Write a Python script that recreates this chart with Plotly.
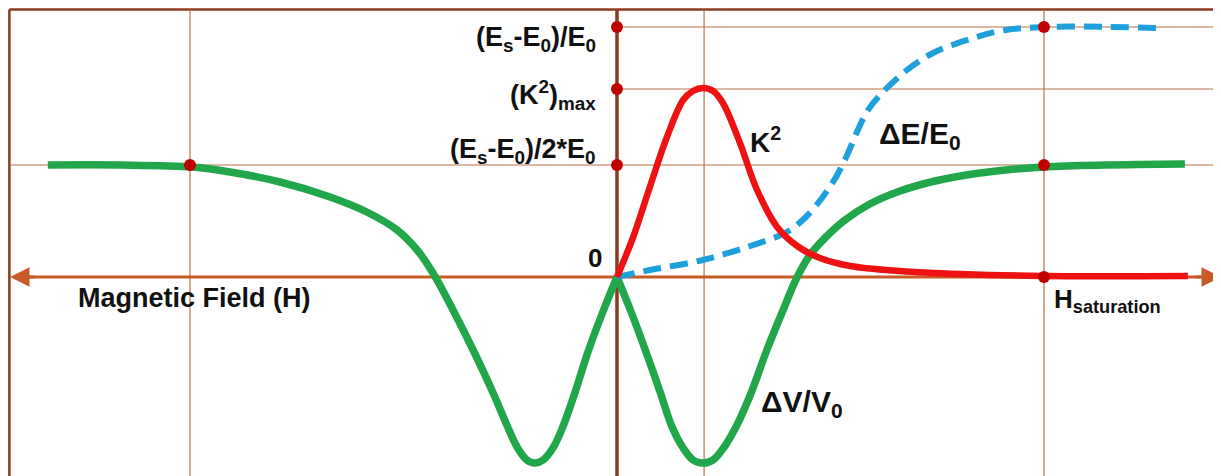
import plotly.graph_objects as go

# magnetic field, normalised so that H_saturation = 1
green_left_h = [-1.333, -1.164, -0.995, -0.906, -0.789, -0.672, -0.586, -0.515, -0.468,
                -0.431, -0.384, -0.337, -0.290, -0.258, -0.234, -0.211, -0.192, -0.173,
                -0.150, -0.127, -0.098, -0.068, -0.035, 0.0]
green_left_v = [1.12, 1.12, 1.10, 1.05, 0.95, 0.80, 0.65, 0.47, 0.27,
                0.04, -0.33, -0.73, -1.16, -1.48, -1.70, -1.83, -1.86, -1.83,
                -1.71, -1.50, -1.15, -0.75, -0.37, 0.0]
green_right_h = [0.0, 0.035, 0.068, 0.101, 0.129, 0.155, 0.178, 0.201, 0.225, 0.251,
                 0.281, 0.314, 0.351, 0.389, 0.422, 0.452, 0.487, 0.534, 0.592,
                 0.663, 0.745, 0.850, 0.998, 1.330]
green_right_v = [0.0, -0.37, -0.75, -1.15, -1.50, -1.71, -1.83, -1.86, -1.83, -1.70,
                 -1.48, -1.16, -0.73, -0.33, 0.0, 0.22, 0.39, 0.57, 0.73,
                 0.86, 0.96, 1.04, 1.10, 1.13]

k2_h = [0.0, 0.038, 0.077, 0.117, 0.155, 0.178, 0.201, 0.225, 0.248, 0.288, 0.328,
        0.375, 0.422, 0.475, 0.546, 0.663, 0.803, 0.998, 1.337]
k2_v = [0.0, 0.40, 0.90, 1.40, 1.77, 1.86, 1.89, 1.86, 1.74, 1.34, 0.87,
        0.50, 0.31, 0.19, 0.11, 0.06, 0.03, 0.01, 0.01]

de_h = [0.0, 0.077, 0.201, 0.312, 0.398, 0.440, 0.480, 0.513, 0.539, 0.562, 0.588,
        0.623, 0.679, 0.740, 0.820, 0.897, 0.998, 1.267]
de_v = [0.0, 0.07, 0.17, 0.31, 0.45, 0.59, 0.79, 1.00, 1.22, 1.45, 1.67,
        1.85, 2.07, 2.24, 2.37, 2.46, 2.50, 2.49]

# reference levels on the vertical axis
levels = [2.50, 1.88, 1.12]
level_labels = ["(E<sub>s</sub>-E<sub>0</sub>)/E<sub>0</sub>",
                "(K<sup>2</sup>)<sub>max</sub>",
                "(E<sub>s</sub>-E<sub>0</sub>)/2*E<sub>0</sub>"]
grid_h = [-1.0, 0.204, 1.0]

dot_h = [0, 0, 0, -1, 1, 1, 1]
dot_v = [2.50, 1.88, 1.12, 1.12, 2.50, 1.12, 0.0]

# the page adds an 8px body margin, ranges account for it
x0, x1 = -1.4262, 1.4333
y0, y1 = -2.07, 2.69
left, top = -1.423, 2.675

BROWN = "#8B3A1E"
GRID = "#B8704A"
AXIS = "#C85A28"


def font(size):
    return dict(family="Liberation Sans, Arial", size=size, color="#111111", weight="bold")


fig = go.Figure()

spl = dict(shape="spline", smoothing=1.0)
fig.add_trace(go.Scatter(x=green_left_h, y=green_left_v, mode="lines",
                         line=dict(color="#21A64A", width=7.5, **spl)))
fig.add_trace(go.Scatter(x=green_right_h, y=green_right_v, mode="lines",
                         line=dict(color="#21A64A", width=7.5, **spl)))
fig.add_trace(go.Scatter(x=de_h, y=de_v, mode="lines",
                         line=dict(color="#1EA0DD", width=6, dash="18px,9px", **spl)))
fig.add_trace(go.Scatter(x=k2_h, y=k2_v, mode="lines",
                         line=dict(color="#EE1111", width=6.5, **spl)))
fig.add_trace(go.Scatter(x=dot_h, y=dot_v, mode="markers",
                         marker=dict(color="#C00000", size=12)))

# frame, grid and axes
fig.add_shape(type="line", x0=left, x1=x1, y0=top, y1=top, line=dict(color=BROWN, width=2.5), layer="below")
fig.add_shape(type="line", x0=left, x1=left, y0=top, y1=y0, line=dict(color=BROWN, width=2.5), layer="below")
for g in grid_h:
    fig.add_shape(type="line", x0=g, x1=g, y0=top, y1=y0, line=dict(color=GRID, width=1.2), layer="below")
fig.add_shape(type="line", x0=0, x1=x1, y0=levels[0], y1=levels[0], line=dict(color=GRID, width=1.2), layer="below")
fig.add_shape(type="line", x0=0, x1=x1, y0=levels[1], y1=levels[1], line=dict(color=GRID, width=1.2), layer="below")
fig.add_shape(type="line", x0=left, x1=x1, y0=levels[2], y1=levels[2], line=dict(color=GRID, width=1.2), layer="below")
fig.add_shape(type="line", x0=0, x1=0, y0=top, y1=y0, line=dict(color=BROWN, width=3.5), layer="below")
fig.add_shape(type="line", x0=-1.41, x1=1.40, y0=0, y1=0, line=dict(color=AXIS, width=3), layer="below")

# arrow heads of the field axis
fig.add_annotation(x=-1.4215, y=0, ax=-1.36, ay=0, axref="x", ayref="y", text="",
                   showarrow=True, arrowhead=2, arrowsize=1.3, arrowwidth=3, arrowcolor=AXIS)
fig.add_annotation(x=1.4145, y=0, ax=1.35, ay=0, axref="x", ayref="y", text="",
                   showarrow=True, arrowhead=2, arrowsize=1.3, arrowwidth=3, arrowcolor=AXIS)

# labels
for lab, yy in zip(level_labels, [2.38, 1.82, 1.26]):
    fig.add_annotation(x=-0.045, y=yy, text=lab, showarrow=False, xanchor="right",
                       yanchor="middle", font=font(27))
texts = [
    (-0.03, 0.19, "0", "right", 26),
    (-1.267, -0.21, "Magnetic Field (H)", "left", 27),
    (0.307, 1.37, "K<sup>2</sup>", "left", 28),
    (0.609, 1.42, "ΔE/E<sub>0</sub>", "left", 30),
    (0.333, -1.26, "ΔV/V<sub>0</sub>", "left", 30),
    (1.019, -0.23, "H<sub>saturation</sub>", "left", 26),
]
for tx, ty, t, anc, sz in texts:
    fig.add_annotation(x=tx, y=ty, text=t, showarrow=False, xanchor=anc,
                       yanchor="middle", font=font(sz))

fig.update_layout(
    width=1221, height=476,
    margin=dict(l=0, r=0, t=0, b=0),
    paper_bgcolor="white", plot_bgcolor="white",
    showlegend=False,
    xaxis=dict(range=[x0, x1], visible=False),
    yaxis=dict(range=[y0, y1], visible=False),
)

fig.write_html("out.html")
